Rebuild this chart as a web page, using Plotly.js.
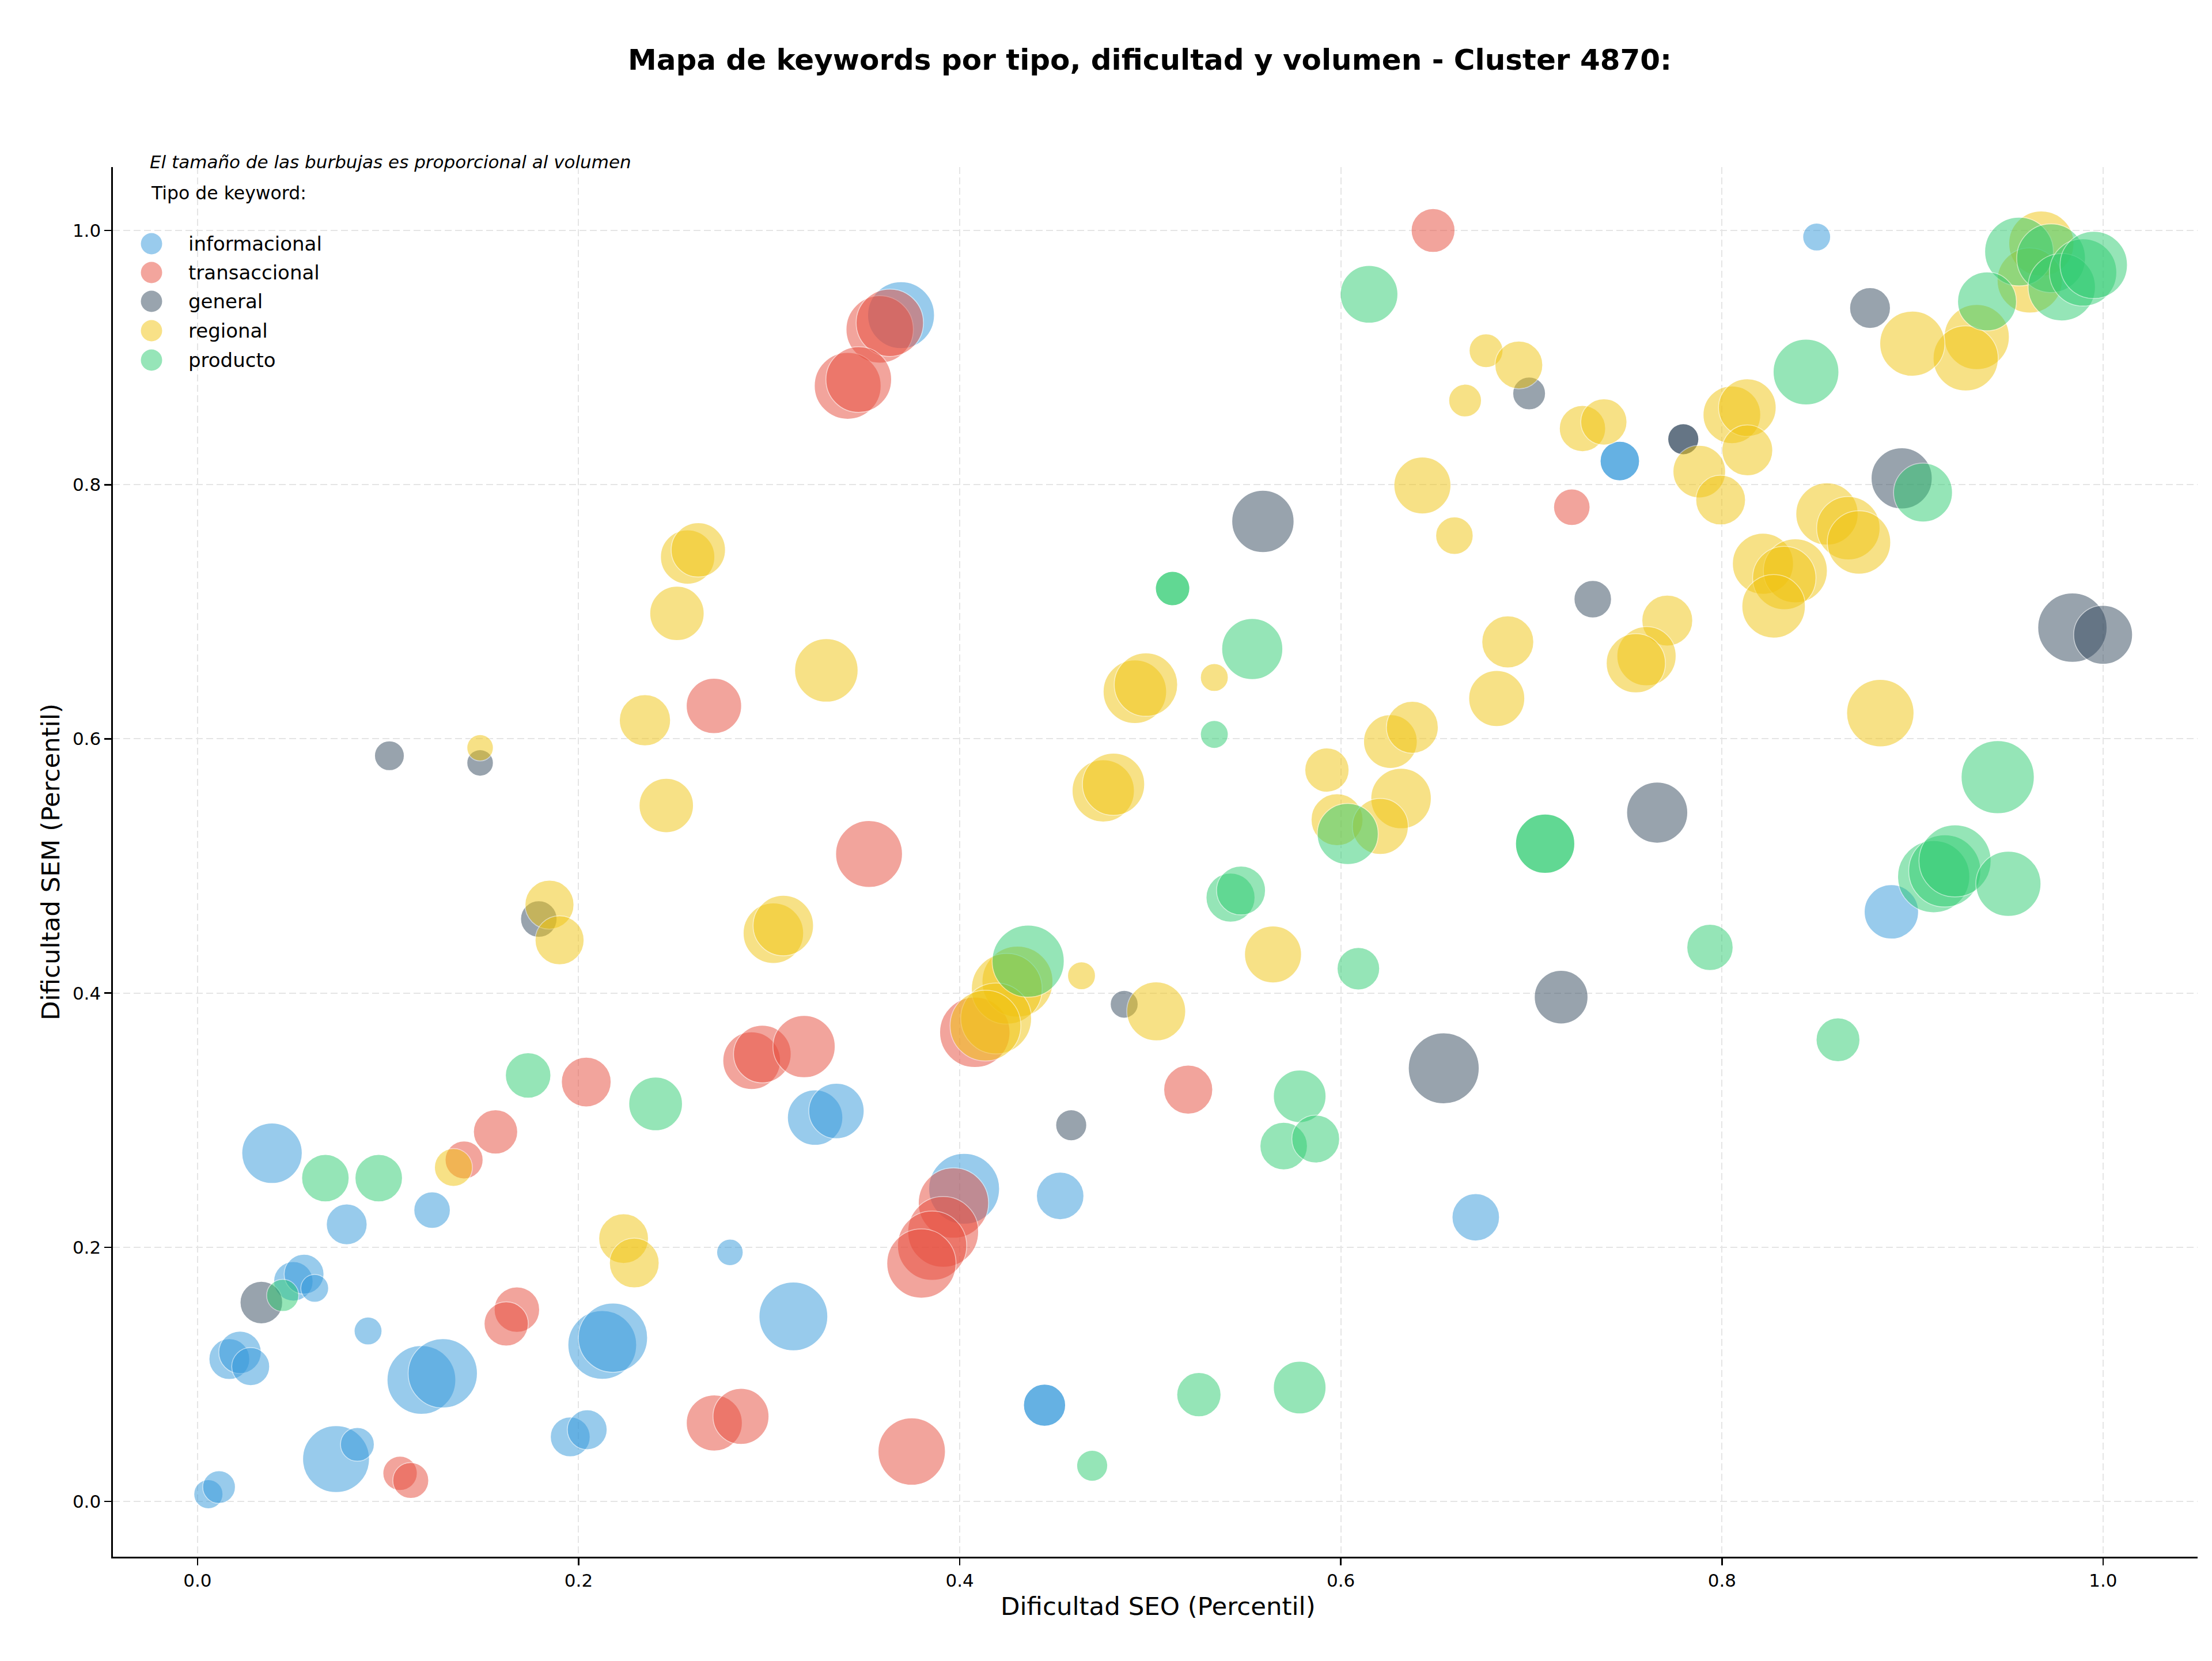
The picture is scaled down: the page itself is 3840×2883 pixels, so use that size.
<!DOCTYPE html>
<html>
<head>
<meta charset="utf-8">
<script src="https://cdn.plot.ly/plotly-3.0.1.min.js"></script>
<style>
  html, body { margin: 0; padding: 0; background: #ffffff; }
  #chart { width: 3840px; height: 2883px; }
</style>
</head>
<body>
<div id="chart"></div>
<script>
// Keyword types and their colours
const tipos = ['informacional', 'transaccional', 'general', 'regional', 'producto'];
const colores = ['#3498db', '#e74c3c', '#34495e', '#f1c40f', '#2ecc71'];

// informacional
const infoSEO = [0.3692, 0.8497, 0.7464, 0.7464, 0.0391, 0.0783, 0.1231, 0.2794, 0.3127, 0.0503,
  0.0559, 0.0615, 0.0895, 0.2124, 0.2180, 0.0167, 0.0223, 0.0279, 0.1175, 0.1287,
  0.1956, 0.2045, 0.0727, 0.0839, 0.0057, 0.0113, 0.3241, 0.3353, 0.4527, 0.4023,
  0.6708, 0.4445, 0.4445, 0.8889];
const infoSEM = [0.9334, 0.9949, 0.8186, 0.8186, 0.2740, 0.2180, 0.2292, 0.1960, 0.1456, 0.1732,
  0.1788, 0.1677, 0.1341, 0.1232, 0.1288, 0.1120, 0.1173, 0.1061, 0.0956, 0.1008,
  0.0508, 0.0564, 0.0333, 0.0449, 0.0057, 0.0113, 0.3020, 0.3072, 0.2404, 0.2460,
  0.2236, 0.0757, 0.0757, 0.4639];
const infoVol = [1210, 210, 420, 420, 990, 450, 360, 190, 1280, 420,
  430, 210, 210, 1280, 1300, 450, 490, 390, 1280, 1300,
  430, 430, 1210, 310, 230, 290, 830, 830, 610, 1360,
  610, 480, 480, 800];

// transaccional
const tranSEO = [0.3580, 0.3633, 0.3412, 0.3470, 0.6484, 0.2710, 0.3524, 0.7212, 0.2908, 0.2964,
  0.3183, 0.2040, 0.1564, 0.1399, 0.1676, 0.1620, 0.2712, 0.2852, 0.1063, 0.1119,
  0.4079, 0.5199, 0.3967, 0.3913, 0.3855, 0.3799, 0.3748];
const tranSEM = [0.9222, 0.9274, 0.8778, 0.8827, 1.0000, 0.6259, 0.5094, 0.7823, 0.3468, 0.3520,
  0.3579, 0.3300, 0.2908, 0.2687, 0.1509, 0.1397, 0.0617, 0.0669, 0.0221, 0.0165,
  0.3691, 0.3240, 0.2348, 0.2121, 0.2012, 0.1872, 0.0393];
const tranVol = [1230, 1230, 1210, 1170, 520, 830, 1210, 360, 900, 900,
  1050, 670, 530, 390, 560, 530, 850, 850, 320, 350,
  1340, 650, 1340, 1360, 1300, 1300, 1230];

// general
const geneSEO = [0.1007, 0.1483, 0.5591, 0.8777, 0.6988, 0.7797, 0.7797, 0.8943, 0.7322, 0.9839,
  1.0000, 0.7660, 0.1791, 0.0335, 0.4863, 0.6540, 0.4585, 0.7156];
const geneSEM = [0.5867, 0.5811, 0.7711, 0.9390, 0.8718, 0.8358, 0.8358, 0.8050, 0.7099, 0.6875,
  0.6819, 0.5420, 0.4583, 0.1565, 0.3912, 0.3408, 0.2960, 0.3968];
const geneVol = [240, 190, 1050, 450, 290, 260, 260, 1010, 380, 1300,
  940, 1010, 360, 490, 210, 1360, 260, 780];

// regional
const regiSEO = [0.2572, 0.2628, 0.2516, 0.2348, 0.1483, 0.2460, 0.6762, 0.6934, 0.6652, 0.6428,
  0.6596, 0.4919, 0.4977, 0.5336, 0.3300, 0.4753, 0.4807, 0.5927, 0.6260, 0.6375,
  0.6316, 0.5980, 0.6207, 0.9676, 0.9615, 0.9337, 0.9279, 0.8999, 0.7268, 0.7380,
  0.8052, 0.8133, 0.8133, 0.7881, 0.7993, 0.8551, 0.8663, 0.8719, 0.8215, 0.8385,
  0.8327, 0.8271, 0.7713, 0.7604, 0.7548, 0.6876, 0.6818, 0.8831, 0.1847, 0.1900,
  0.3022, 0.3074, 0.1343, 0.2236, 0.2292, 0.5644, 0.4303, 0.4247, 0.4191, 0.4135,
  0.4639, 0.5031];
const regiSEM = [0.7431, 0.7487, 0.6987, 0.6147, 0.5930, 0.5476, 0.9054, 0.8942, 0.8662, 0.7994,
  0.7599, 0.6371, 0.6427, 0.6483, 0.6539, 0.5591, 0.5643, 0.5755, 0.5979, 0.6091,
  0.5531, 0.5364, 0.5311, 0.9897, 0.9607, 0.9162, 0.8994, 0.9110, 0.8442, 0.8494,
  0.8550, 0.8606, 0.8270, 0.8103, 0.7879, 0.7770, 0.7658, 0.7546, 0.7378, 0.7322,
  0.7266, 0.7043, 0.6931, 0.6651, 0.6595, 0.6763, 0.6318, 0.6203, 0.4695, 0.4415,
  0.4471, 0.4531, 0.2628, 0.2068, 0.1876, 0.4304, 0.4090, 0.4034, 0.3800, 0.3744,
  0.4136, 0.3856];
const regiVol = [800, 800, 800, 710, 190, 800, 310, 620, 290, 880,
  380, 1090, 1090, 210, 1090, 1050, 1050, 530, 780, 730,
  990, 730, 850, 1150, 1150, 1150, 1150, 1150, 580, 580,
  900, 900, 700, 750, 670, 1050, 1090, 1090, 1010, 1110,
  1090, 1090, 700, 950, 950, 730, 850, 1230, 650, 650,
  990, 990, 390, 670, 670, 880, 1360, 1360, 1360, 1360,
  210, 940];

// producto
const prodSEO = [0.6148, 0.5117, 0.5117, 0.5535, 0.5336, 0.6036, 0.9559, 0.9727, 0.9783, 0.9895,
  0.9951, 0.9391, 0.8441, 0.9055, 0.9447, 0.7072, 0.7072, 0.1735, 0.2404, 0.0671,
  0.0951, 0.0447, 0.5421, 0.5476, 0.6092, 0.4359, 0.5784, 0.5700, 0.5868, 0.5255,
  0.5784, 0.4695, 0.7937, 0.8609, 0.9111, 0.9169, 0.9223, 0.9503];
const prodSEM = [0.9498, 0.7183, 0.7183, 0.6707, 0.6035, 0.5252, 0.9834, 0.9782, 0.9554, 0.9670,
  0.9729, 0.9442, 0.8886, 0.7938, 0.5699, 0.5175, 0.5175, 0.3352, 0.3128, 0.2544,
  0.2544, 0.1621, 0.4751, 0.4807, 0.4192, 0.4251, 0.3188, 0.2796, 0.2852, 0.0840,
  0.0896, 0.0281, 0.4359, 0.3632, 0.4916, 0.4961, 0.5040, 0.4860];
const prodVol = [900, 320, 320, 1010, 210, 1010, 1280, 1280, 1230, 1230,
  1230, 940, 1170, 940, 1450, 950, 950, 560, 780, 610,
  610, 280, 650, 650, 490, 1410, 750, 610, 620, 530,
  750, 260, 580, 520, 1410, 1410, 1410, 1150];

// Axis ticks
const ticksX = [0.0, 0.2, 0.4, 0.6, 0.8, 1.0];
const ticksY = [0.0, 0.2, 0.4, 0.6, 0.8, 1.0];

const series = [
  [infoSEO, infoSEM, infoVol],
  [tranSEO, tranSEM, tranVol],
  [geneSEO, geneSEM, geneVol],
  [regiSEO, regiSEM, regiVol],
  [prodSEO, prodSEM, prodVol]
];

// Bubble area follows volume (points^2 at 240 dpi -> px diameter)
const PX_PER_PT = 240 / 72;
const diam = v => Math.sqrt(v) * PX_PER_PT;

const traces = series.map((s, i) => ({
  type: 'scatter',
  mode: 'markers',
  name: tipos[i],
  x: s[0],
  y: s[1],
  marker: {
    size: s[2].map(diam),
    color: colores[i],
    opacity: 0.5,
    line: { color: '#ffffff', width: 1.5 }
  },
  hoverinfo: 'x+y+name'
}));

// Plot-area geometry in page pixels
const W = 3840, H = 2883;
const L = 196, R = 3815, T = 290, B = 2702;
const px = x => (x - L) / (R - L);
const py = y => (B - y) / (B - T);

const legendRows = [423, 473, 523, 574, 625];
const shapes = tipos.map((t, i) => ({
  type: 'circle',
  xref: 'paper', yref: 'paper',
  xsizemode: 'pixel', ysizemode: 'pixel',
  xanchor: px(263), yanchor: py(legendRows[i]),
  x0: -18.5, x1: 18.5, y0: -18.5, y1: 18.5,
  fillcolor: colores[i],
  opacity: 0.5,
  line: { width: 0 }
}));

const annotations = tipos.map((t, i) => ({
  xref: 'paper', yref: 'paper',
  x: px(325), y: py(legendRows[i]),
  xanchor: 'left', yanchor: 'middle',
  text: t, showarrow: false,
  font: { family: 'DejaVu Sans', size: 34, color: '#000000' }
}));

annotations.push({
  xref: 'paper', yref: 'paper',
  x: px(260), y: py(335), xanchor: 'left', yanchor: 'middle',
  text: 'Tipo de keyword:', showarrow: false,
  font: { family: 'DejaVu Sans', size: 31.5, color: '#000000' }
});
annotations.push({
  xref: 'paper', yref: 'paper',
  x: px(258), y: py(281), xanchor: 'left', yanchor: 'middle',
  text: '<i>El tamaño de las burbujas es proporcional al volumen</i>', showarrow: false,
  font: { family: 'DejaVu Sans', size: 31, color: '#000000' }
});
// Axis titles
annotations.push({
  xref: 'paper', yref: 'paper',
  x: px(2010), y: py(2788), xanchor: 'center', yanchor: 'middle',
  text: 'Dificultad SEO (Percentil)', showarrow: false,
  font: { family: 'DejaVu Sans', size: 43.5, color: '#000000' }
});
annotations.push({
  xref: 'paper', yref: 'paper',
  x: px(88), y: py(1496), xanchor: 'center', yanchor: 'middle',
  textangle: -90,
  text: 'Dificultad SEM (Percentil)', showarrow: false,
  font: { family: 'DejaVu Sans', size: 43.5, color: '#000000' }
});

const axisCommon = {
  showline: true, linecolor: '#000000', linewidth: 2.6, mirror: false,
  ticks: 'outside', ticklen: 12, tickwidth: 2.6, tickcolor: '#000000',
  showgrid: true, gridcolor: '#e5e5e5', gridwidth: 2, griddash: '12px,6px',
  zeroline: false,
  tickformat: '.1f',
  tickfont: { family: 'DejaVu Sans', size: 31, color: '#000000' },
  automargin: false,
  fixedrange: true
};

const layout = {
  width: W, height: H,
  margin: { l: L, r: W - R, t: T, b: H - B, pad: 0 },
  paper_bgcolor: '#ffffff',
  plot_bgcolor: '#ffffff',
  font: { family: 'DejaVu Sans', color: '#000000' },
  showlegend: false,
  title: {
    text: '<b>Mapa de keywords por tipo, dificultad y volumen - Cluster 4870:</b>',
    font: { family: 'DejaVu Sans', size: 50, color: '#000000' },
    x: 1996 / W, xanchor: 'center',
    y: 1 - 103 / H, yanchor: 'middle'
  },
  xaxis: Object.assign({}, axisCommon, {
    range: [-0.0444, 1.0496], tickvals: ticksX
  }),
  yaxis: Object.assign({}, axisCommon, {
    range: [-0.0435, 1.0499], tickvals: ticksY
  }),
  shapes: shapes,
  annotations: annotations,
  hovermode: 'closest'
};

Plotly.newPlot('chart', traces, layout, { displayModeBar: false, staticPlot: true });
</script>
</body>
</html>
